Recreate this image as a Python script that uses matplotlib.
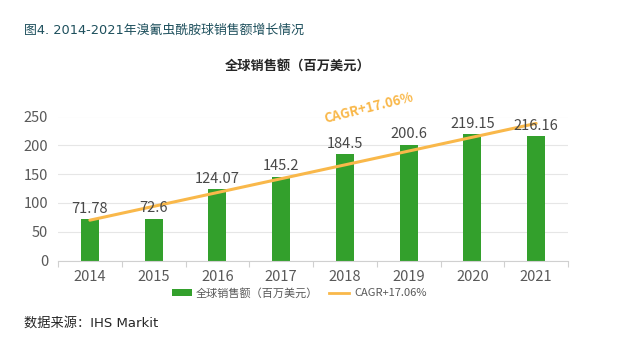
import matplotlib
matplotlib.use("Agg")
import matplotlib.pyplot as plt
from matplotlib.lines import Line2D
from matplotlib.patches import Patch

plt.rcParams['font.family'] = ['Noto Sans CJK SC', 'DejaVu Sans']

years = ['2014', '2015', '2016', '2017', '2018', '2019', '2020', '2021']
sales = [71.78, 72.6, 124.07, 145.2, 184.5, 200.6, 219.15, 216.16]
sales_labels = ['71.78', '72.6', '124.07', '145.2', '184.5', '200.6', '219.15', '216.16']
trend = [70, 94, 118, 142, 166, 190, 214, 238]
yticks = [0, 50, 100, 150, 200, 250]

bar_color = '#33A02C'
line_color = '#F9B84A'
text_grey = '#595959'

fig = plt.figure(figsize=(6.33, 3.46), dpi=100)
ax = fig.add_axes([58/633, 1-260.5/346, (568-58)/633, (260.5-116.5)/346])

x = list(range(len(years)))
ax.bar(x, sales, width=0.28, color=bar_color, zorder=2, label='全球销售额（百万美元）')
ax.plot(x, trend, color=line_color, lw=2.2, zorder=3, solid_capstyle='round', label='CAGR+17.06%')

for xi, v, s in zip(x, sales, sales_labels):
    ax.text(xi, v + 6, s, ha='center', va='bottom', fontsize=10.5, color='#484848', zorder=4)

ax.set_xlim(-0.5, len(years) - 0.5)
ax.set_ylim(0, 250)
ax.set_yticks(yticks)
ax.set_yticklabels([str(t) for t in yticks], fontsize=10.5, color=text_grey)
ax.set_xticks(x)
ax.set_xticklabels(years, fontsize=10.5, color=text_grey)
ax.tick_params(axis='y', length=0, pad=7)
ax.tick_params(axis='x', length=0, pad=7)
# category boundary ticks
ax.set_xticks([i - 0.5 for i in range(len(years) + 1)], minor=True)
ax.tick_params(axis='x', which='minor', length=4, color='#d0d0d0', width=0.8)
ax.grid(axis='y', color='#e6e6e6', lw=0.8, zorder=0)
for sp in ['top', 'right', 'left']:
    ax.spines[sp].set_visible(False)
ax.spines['bottom'].set_color('#d0d0d0')
ax.spines['bottom'].set_linewidth(0.8)

ax.text(4.37, 264, 'CAGR+17.06%', rotation=14, color=line_color, fontsize=9.5,
        fontweight='bold', ha='center', va='center', clip_on=False)

fig.text(24/633, 1-30/346, '图4. 2014-2021年溴氰虫酰胺球销售额增长情况', fontsize=9.3,
         family=['DejaVu Sans', 'Noto Sans CJK SC'],
         color='#1d4f5c', ha='left', va='center')
fig.text(298/633, 1-67/346, '全球销售额（百万美元）', fontsize=9.5, fontweight='bold',
         color='#262626', ha='center', va='center')
fig.text(24/633, 1-323/346, '数据来源：IHS Markit', fontsize=9.5, color='#262626',
         family=['DejaVu Sans', 'Noto Sans CJK SC'], ha='left', va='center')

handles = [Patch(facecolor=bar_color, edgecolor='none'),
           Line2D([0], [0], color=line_color, lw=2)]
fig.legend(handles, ['全球销售额（百万美元）', 'CAGR+17.06%'], loc='center',
           bbox_to_anchor=(299/633, 1-293/346), ncol=2, frameon=False, fontsize=8,
           labelcolor=text_grey, handlelength=1.8, handleheight=0.6,
           columnspacing=1.0, handletextpad=0.4)

fig.savefig('out.png', dpi=100)
